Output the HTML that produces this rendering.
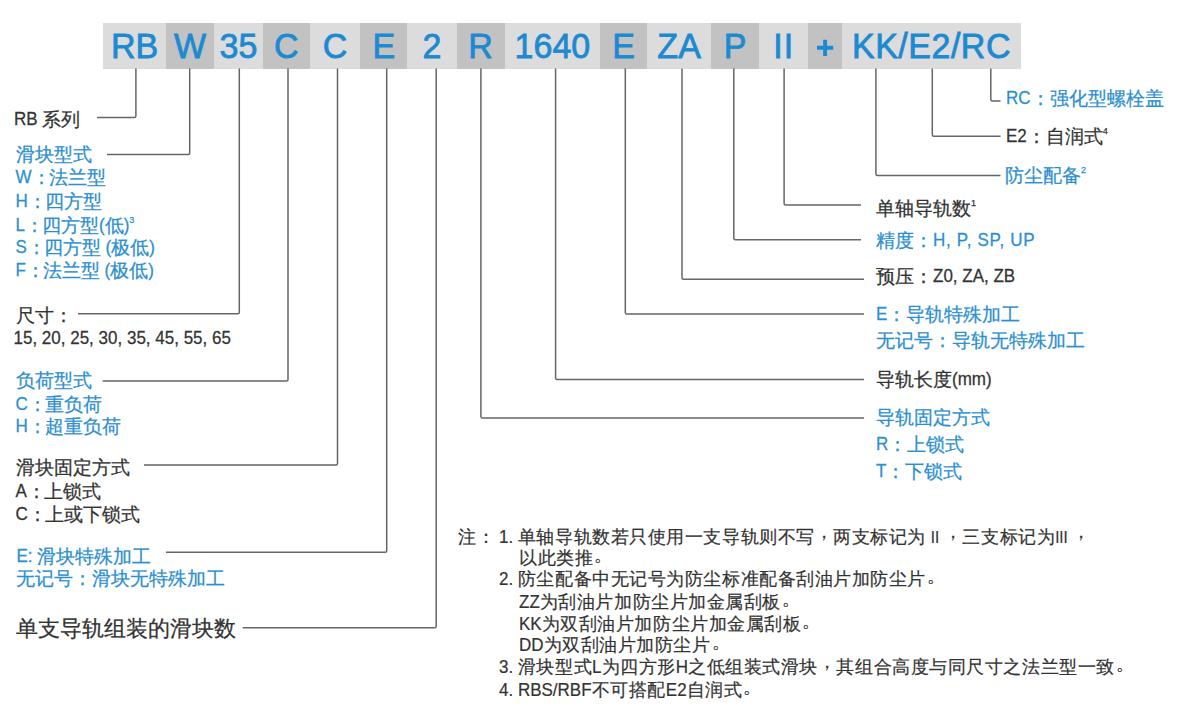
<!DOCTYPE html><html><head><meta charset="utf-8"><style>
html,body{margin:0;padding:0;background:#fff;width:1200px;height:712px;overflow:hidden}
body{position:relative;font-family:"Liberation Sans",sans-serif;color:#333}
.seg{position:absolute;top:23px;height:45.5px;color:#1c8ad2;font-size:34px;line-height:45.5px;text-align:center;white-space:nowrap}
.seg.d{background:#c2c2c2}
.seg span{display:inline-block;transform-origin:center;transform:translateY(0.8px) scaleY(1.04);-webkit-text-stroke:0.8px #1c8ad2}
.t{position:absolute;white-space:nowrap;font-size:17px;line-height:24px;-webkit-text-stroke:0.25px #333}
.t.b{color:#2b8fd0;-webkit-text-stroke:0.25px #2b8fd0}
i{font-style:normal}
.r{font-size:15px}
.k{letter-spacing:-2px}
.n .cm{position:relative;top:-5px}
.n .pd{position:relative;top:-3px;left:1px}
.n .l{display:inline-block;white-space:pre;transform:scaleY(1.07);transform-origin:0 78%}
.t .c{font-size:19px}
.t .l{display:inline-block;white-space:pre;transform:translateY(-0.8px) scaleY(1.1);transform-origin:0 78%}
.n{position:absolute;white-space:nowrap;font-size:17px;line-height:22px;color:#333;-webkit-text-stroke:0.2px #333}
.n .c{font-size:18px;letter-spacing:0.55px}
sup{font-size:9px;vertical-align:top;line-height:10px;position:relative;top:1px}
svg{position:absolute;left:0;top:0}
</style></head><body>

<div style="position:absolute;left:103px;top:23px;width:918px;height:45.5px;background:#dcdcdc"></div>
<div class="seg" style="left:103.0px;width:63.0px"><span>RB</span></div>
<div class="seg d" style="left:166.0px;width:48.0px"><span>W</span></div>
<div class="seg" style="left:214.0px;width:48.8px"><span>35</span></div>
<div class="seg d" style="left:262.8px;width:47.2px"><span>C</span></div>
<div class="seg" style="left:310.0px;width:50.2px"><span>C</span></div>
<div class="seg d" style="left:360.2px;width:47.2px"><span>E</span></div>
<div class="seg" style="left:407.5px;width:49.0px"><span>2</span></div>
<div class="seg d" style="left:456.5px;width:48.2px"><span>R</span></div>
<div class="seg" style="left:504.8px;width:95.2px"><span>1640</span></div>
<div class="seg d" style="left:600.0px;width:47.2px"><span>E</span></div>
<div class="seg" style="left:647.2px;width:63.8px"><span>ZA</span></div>
<div class="seg d" style="left:711.0px;width:48.0px"><span>P</span></div>
<div class="seg" style="left:759.0px;width:48.5px"><span style="letter-spacing:1.2px;margin-left:1.2px">II</span></div>
<div class="seg d" style="left:807.5px;width:34.5px"><svg width="34.5" height="45.5" style="position:absolute;left:0;top:0"><path d="M9 24.8H25.2M17.1 16.7V32.9" stroke="#1c8ad2" stroke-width="3.9"/></svg></div>
<div class="seg" style="left:842.0px;width:179.0px"><span style="letter-spacing:0.5px">KK/E2/RC</span></div>
<svg width="1200" height="712" viewBox="0 0 1200 712"><g fill="none" stroke="#666" stroke-width="1.5"><path d="M135.9 68.5 V116.1 Q135.9 117.6 134.4 117.6 H97.0"/><path d="M189.7 68.5 V152.9 Q189.7 154.4 188.2 154.4 H107.0"/><path d="M239.3 68.5 V312.3 Q239.3 313.8 237.8 313.8 H78.0"/><path d="M288.0 68.5 V379.5 Q288.0 381.0 286.5 381.0 H102.6"/><path d="M337.5 68.5 V463.5 Q337.5 465.0 336.0 465.0 H144.0"/><path d="M386.7 68.5 V550.7 Q386.7 552.2 385.2 552.2 H166.0"/><path d="M436.2 68.5 V626.2 Q436.2 627.7 434.7 627.7 H242.7"/><path d="M480.9 68.5 V416.5 Q480.9 418.0 482.4 418.0 H864.0"/><path d="M555.6 68.5 V378.1 Q555.6 379.6 557.1 379.6 H864.0"/><path d="M625.3 68.5 V312.5 Q625.3 314.0 626.8 314.0 H864.0"/><path d="M682.0 68.5 V277.8 Q682.0 279.3 683.5 279.3 H864.0"/><path d="M733.8 68.5 V238.3 Q733.8 239.8 735.3 239.8 H861.0"/><path d="M784.1 68.5 V203.5 Q784.1 205.0 785.6 205.0 H861.0"/><path d="M875.9 68.5 V174.0 Q875.9 175.5 877.4 175.5 H1000.5"/><path d="M932.3 68.5 V134.7 Q932.3 136.2 933.8 136.2 H1000.5"/><path d="M990.8 68.5 V99.5 Q990.8 101.0 992.3 101.0 H1000.5"/></g></svg>
<div class="t" style="left:14.0px;top:107.5px"><i class="l">RB </i><i class="c">系列</i></div>
<div class="t b" style="left:15.5px;top:143.0px"><i class="c">滑块型式</i></div>
<div class="t b" style="left:15.5px;top:166.0px"><i class="l">W</i><i class="c"><i class="k">：</i>法兰型</i></div>
<div class="t b" style="left:15.5px;top:189.5px"><i class="l">H</i><i class="c"><i class="k">：</i>四方型</i></div>
<div class="t b" style="left:15.5px;top:213.5px"><i class="l">L</i><i class="c"><i class="k">：</i>四方型</i><i class="l">(</i><i class="c">低</i><i class="l">)</i><sup>3</sup></div>
<div class="t b" style="left:15.5px;top:236.0px"><i class="l">S</i><i class="c"><i class="k">：</i>四方型</i><i class="l"> (</i><i class="c">极低</i><i class="l">)</i></div>
<div class="t b" style="left:15.5px;top:259.0px"><i class="l">F</i><i class="c"><i class="k">：</i>法兰型</i><i class="l"> (</i><i class="c">极低</i><i class="l">)</i></div>
<div class="t" style="left:15.5px;top:303.5px"><i class="c">尺寸：</i></div>
<div class="t" style="left:13.5px;top:327.5px"><i class="l">15, 20, 25, 30, 35, 45, 55, 65</i></div>
<div class="t b" style="left:15.5px;top:369.0px"><i class="c">负荷型式</i></div>
<div class="t b" style="left:15.5px;top:393.0px"><i class="l">C</i><i class="c"><i class="k">：</i>重负荷</i></div>
<div class="t b" style="left:15.5px;top:415.0px"><i class="l">H</i><i class="c"><i class="k">：</i>超重负荷</i></div>
<div class="t" style="left:15.5px;top:455.5px"><i class="c">滑块固定方式</i></div>
<div class="t" style="left:15.5px;top:479.5px"><i class="l">A</i><i class="c"><i class="k">：</i>上锁式</i></div>
<div class="t" style="left:15.5px;top:502.5px"><i class="l">C</i><i class="c"><i class="k">：</i>上或下锁式</i></div>
<div class="t b" style="left:16.5px;top:544.5px"><i class="l">E: </i><i class="c">滑块特殊加工</i></div>
<div class="t b" style="left:16.0px;top:566.5px"><i class="c">无记号：滑块无特殊加工</i></div>
<div class="t" style="left:16px;top:614px;font-size:21px;line-height:30px"><i class="c" style="font-size:22px">单支导轨组装的滑块数</i></div>
<div class="t b" style="left:1006.0px;top:87.0px"><i class="l">RC</i><i class="c">：强化型螺栓盖</i></div>
<div class="t" style="left:1006.0px;top:125.0px"><i class="l">E2</i><i class="c">：自润式</i><sup>4</sup></div>
<div class="t b" style="left:1005.0px;top:164.0px"><i class="c">防尘配备</i><sup>2</sup></div>
<div class="t" style="left:876.0px;top:196.5px"><i class="c">单轴导轨数</i><sup>1</sup></div>
<div class="t b" style="left:876.0px;top:228.5px"><i class="c">精度：</i><i class="l"><span style="letter-spacing:0.7px">H, P, SP, UP</span></i></div>
<div class="t" style="left:876.0px;top:265.0px"><i class="c">预压：</i><i class="l">Z0, ZA, ZB</i></div>
<div class="t b" style="left:876.0px;top:303.0px"><i class="l">E</i><i class="c">：导轨特殊加工</i></div>
<div class="t b" style="left:876.0px;top:329.0px"><i class="c">无记号：导轨无特殊加工</i></div>
<div class="t" style="left:876.0px;top:367.5px"><i class="c">导轨长度</i><i class="l">(mm)</i></div>
<div class="t b" style="left:876.0px;top:405.5px"><i class="c">导轨固定方式</i></div>
<div class="t b" style="left:876.0px;top:433.0px"><i class="l">R</i><i class="c">：上锁式</i></div>
<div class="t b" style="left:876.0px;top:459.5px"><i class="l">T</i><i class="c">：下锁式</i></div>
<div class="n" style="left:458px;top:526px"><i class="c">注：</i></div>
<div class="n" style="left:499px;top:526px"><i class="l">1. </i><i class="c">单轴导轨数若只使用一支导轨则不写<i class="cm">，</i>两支标记为</i><i class="l"> <i class="r">II</i> </i><i class="c"><i class="cm">，</i>三支标记为</i><i class="l"><i class="r">III</i> </i><i class="c"><i class="cm">，</i></i></div>
<div class="n" style="left:519px;top:547px"><i class="c">以此类推<i class="pd">。</i></i></div>
<div class="n" style="left:499px;top:568px"><i class="l">2. </i><i class="c">防尘配备中无记号为防尘标准配备刮油片加防尘片<i class="pd">。</i></i></div>
<div class="n" style="left:519px;top:591px"><i class="l">ZZ</i><i class="c">为刮油片加防尘片加金属刮板<i class="pd">。</i></i></div>
<div class="n" style="left:519px;top:613px"><i class="l">KK</i><i class="c">为双刮油片加防尘片加金属刮板<i class="pd">。</i></i></div>
<div class="n" style="left:519px;top:634px"><i class="l">DD</i><i class="c">为双刮油片加防尘片<i class="pd">。</i></i></div>
<div class="n" style="left:499px;top:656px"><i class="l">3. </i><i class="c">滑块型式</i><i class="l">L</i><i class="c">为四方形</i><i class="l">H</i><i class="c">之低组装式滑块<i class="cm">，</i>其组合高度与同尺寸之法兰型一致<i class="pd">。</i></i></div>
<div class="n" style="left:499px;top:679px"><i class="l">4. RBS/RBF</i><i class="c">不可搭配</i><i class="l">E2</i><i class="c">自润式<i class="pd">。</i></i></div>
</body></html>
